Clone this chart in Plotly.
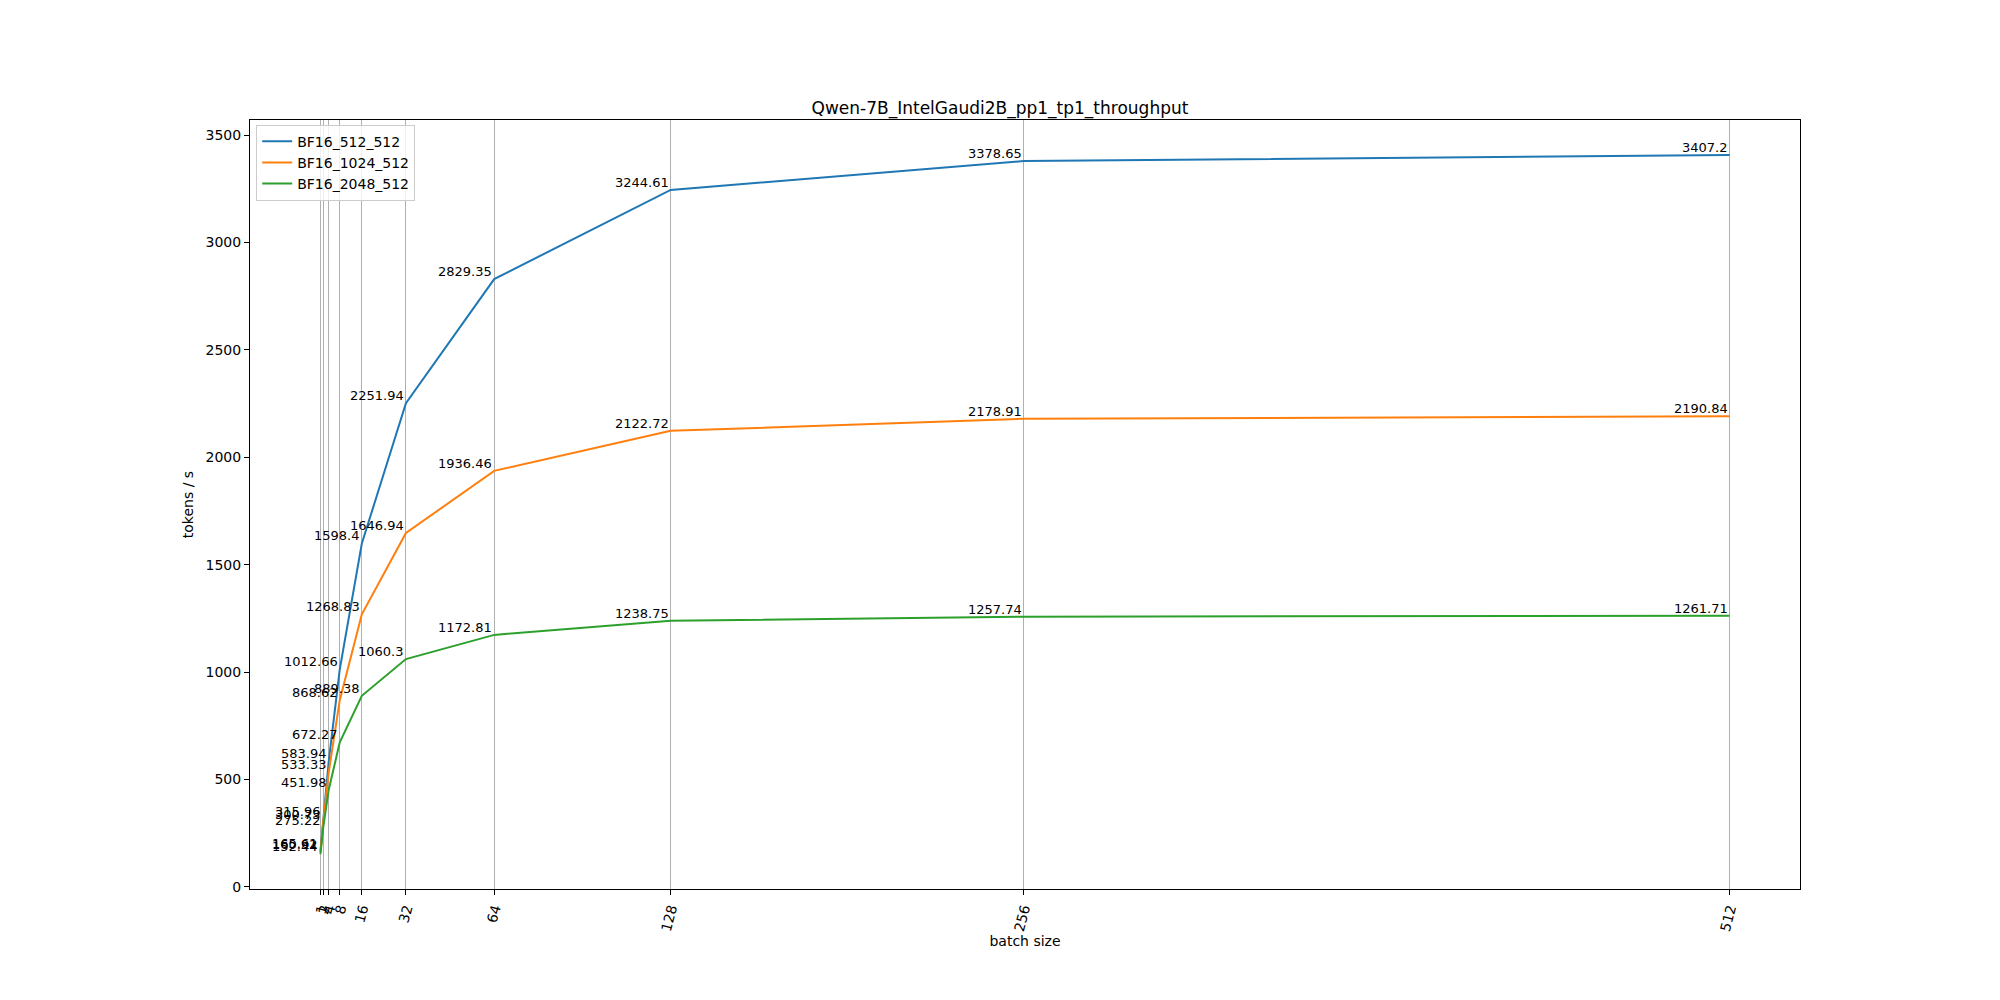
import plotly.graph_objects as go

# batch sizes and throughput values (tokens / s)
batch_size = [1, 2, 4, 8, 16, 32, 64, 128, 256, 512]
bf16_512_512 = [165.61, 315.96, 583.94, 1012.66, 1598.4, 2251.94, 2829.35, 3244.61, 3378.65, 3407.2]
bf16_1024_512 = [160.92, 300.73, 533.33, 868.62, 1268.83, 1646.94, 1936.46, 2122.72, 2178.91, 2190.84]
bf16_2048_512 = [152.44, 275.22, 451.98, 672.27, 889.38, 1060.3, 1172.81, 1238.75, 1257.74, 1261.71]

series_names = ["BF16_512_512", "BF16_1024_512", "BF16_2048_512"]
colors = ["#1f77b4", "#ff7f0e", "#2ca02c"]

font = "DejaVu Sans"

fig = go.Figure()
annotations = []
for name, vals, c in zip(series_names, [bf16_512_512, bf16_1024_512, bf16_2048_512], colors):
    fig.add_trace(go.Scatter(x=batch_size, y=vals, mode="lines", name=name,
                             line=dict(color=c, width=2)))
    # value labels, right aligned on each point like plt.text(ha="right", va="bottom")
    for bx, v in zip(batch_size, vals):
        annotations.append(dict(x=bx, y=v, text=str(v), showarrow=False,
                                xanchor="right", yanchor="bottom",
                                font=dict(family=font, size=13, color="black"),
                                yshift=-2))

# page body has an 8px margin, so the figure is a bit smaller than the window
fig.update_layout(
    width=1992, height=992,
    margin=dict(l=242, r=200, t=112, b=111),
    paper_bgcolor="white", plot_bgcolor="white",
    font=dict(family=font, size=14, color="black"),
    title=dict(text="Qwen-7B_IntelGaudi2B_pp1_tp1_throughput", x=(1000 - 8) / 1992, xanchor="center",
               y=1 - 106 / 992, yanchor="bottom", font=dict(size=17)),
    annotations=annotations,
    showlegend=True,
    legend=dict(x=0.004, y=0.994, xanchor="left", yanchor="top",
                bordercolor="#cccccc", borderwidth=1, bgcolor="rgba(255,255,255,0.8)",
                font=dict(size=14), tracegroupgap=0),
)
fig.update_xaxes(
    range=[-24.55, 537.55], tickvals=batch_size, ticktext=[str(b) for b in batch_size],
    tickangle=-75, showgrid=True, gridcolor="#b0b0b0", gridwidth=1,
    showline=True, linecolor="black", linewidth=1, mirror=True,
    ticks="outside", ticklen=5, tickcolor="black", zeroline=False,
    title=dict(text="batch size", font=dict(size=14), standoff=2),
)
fig.update_yaxes(
    range=[-10.3, 3570], tickvals=[0, 500, 1000, 1500, 2000, 2500, 3000, 3500],
    showgrid=False, showline=True, linecolor="black", linewidth=1, mirror=True,
    ticks="outside", ticklen=5, tickcolor="black", zeroline=False,
    title=dict(text="tokens / s", font=dict(size=14), standoff=8),
)

fig.write_html("out.html")
